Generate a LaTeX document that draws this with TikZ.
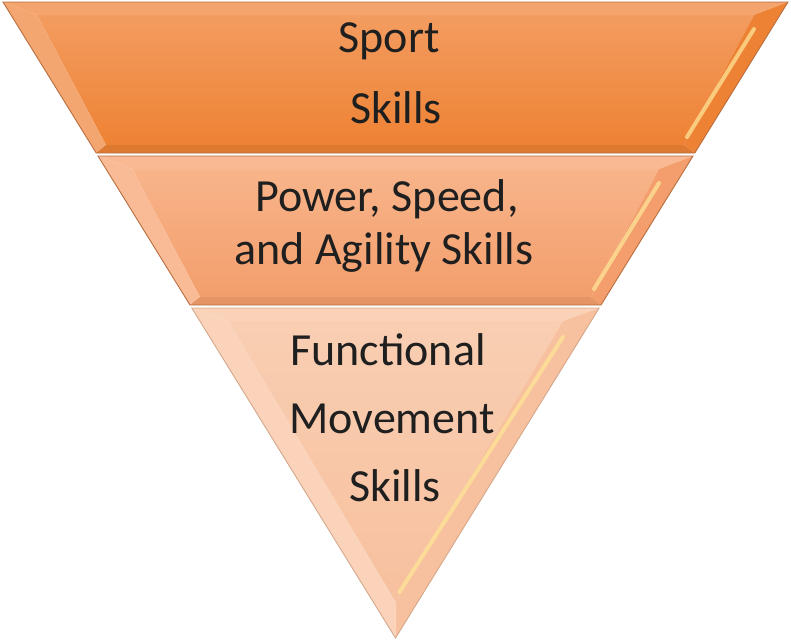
\documentclass[tikz,border=0pt]{standalone}
\usepackage{fontspec}
\setmainfont{Carlito}
\usetikzlibrary{calc}

% band colours
\definecolor{sportHi}{RGB}{243,156,96}
\definecolor{sportLo}{RGB}{238,130,52}
\definecolor{powerHi}{RGB}{248,180,138}
\definecolor{powerLo}{RGB}{243,158,108}
\definecolor{moveHi}{RGB}{249,206,178}
\definecolor{moveLo}{RGB}{247,192,158}
\definecolor{rimline}{RGB}{184,110,64}
\definecolor{gleam}{RGB}{255,228,150}

\begin{document}
\begin{tikzpicture}[
        x=1pt, y=-1pt,
        lbl/.style={anchor=base, inner sep=0pt, font=\fontsize{46}{54}\selectfont, text=black!88},
        rim/.style={draw=rimline, line width=0.9pt},
        shine/.style={draw=gleam, line width=4pt, line cap=round, opacity=0.75}
    ]
    \useasboundingbox (0,0) rectangle (791,641);

    % top band: Sport Skills
    \coordinate (s1) at (3,2);      \coordinate (s2) at (788,2);
    \coordinate (s3) at (694.8,153); \coordinate (s4) at (96.2,153);
    \coordinate (si1) at (37,15);   \coordinate (si2) at (754,15);
    \coordinate (si3) at (684,145); \coordinate (si4) at (106,145);
    \shade[top color=sportHi, bottom color=sportLo] (si1) -- (si2) -- (si3) -- (si4) -- cycle;
    \fill[sportHi!92!white] (s1) -- (s2) -- (si2) -- (si1) -- cycle;
    \fill[sportHi!90!white] (s1) -- (si1) -- (si4) -- (s4) -- cycle;
    \fill[sportLo] (s2) -- (s3) -- (si3) -- (si2) -- cycle;
    \fill[sportLo!93!black] (s4) -- (si4) -- (si3) -- (s3) -- cycle;
    \draw[shine] ($(si2)+(0,14)$) -- ($(si3)+(3,-8)$);
    \draw[rim] (s1) -- (s2) -- (s3) -- (s4) -- cycle;

    % middle band: Power, Speed, Agility
    \coordinate (p1) at (98,156);   \coordinate (p2) at (693,156);
    \coordinate (p3) at (601,305);  \coordinate (p4) at (190,305);
    \coordinate (pi1) at (132,169); \coordinate (pi2) at (659,169);
    \coordinate (pi3) at (591,297); \coordinate (pi4) at (200,297);
    \shade[top color=powerHi, bottom color=powerLo] (pi1) -- (pi2) -- (pi3) -- (pi4) -- cycle;
    \fill[powerHi!92!white] (p1) -- (p2) -- (pi2) -- (pi1) -- cycle;
    \fill[powerHi!90!white] (p1) -- (pi1) -- (pi4) -- (p4) -- cycle;
    \fill[powerLo] (p2) -- (p3) -- (pi3) -- (pi2) -- cycle;
    \fill[powerLo!94!black] (p4) -- (pi4) -- (pi3) -- (p3) -- cycle;
    \draw[shine] ($(pi2)+(0,14)$) -- ($(pi3)+(3,-8)$);
    \draw[rim] (p1) -- (p2) -- (p3) -- (p4) -- cycle;

    % bottom band: Functional Movement
    \coordinate (m1) at (191.8,308); \coordinate (m2) at (599.2,308);
    \coordinate (m3) at (395.5,638);
    \coordinate (mi1) at (228,321);  \coordinate (mi2) at (563,321);
    \coordinate (mi3) at (395.5,602);
    \shade[top color=moveHi, bottom color=moveLo] (mi1) -- (mi2) -- (mi3) -- cycle;
    \fill[moveHi!92!white] (m1) -- (m2) -- (mi2) -- (mi1) -- cycle;
    \fill[moveHi!90!white] (m1) -- (mi1) -- (mi3) -- (m3) -- cycle;
    \fill[moveLo] (m2) -- (m3) -- (mi3) -- (mi2) -- cycle;
    \draw[shine] ($(mi2)+(0,16)$) -- ($(mi3)+(4,-10)$);
    \draw[rim, draw=rimline!60] (m1) -- (m2) -- (m3) -- cycle;

    % labels
    \node[lbl] (sport)   at (389,52)  {Sport};
    \node[lbl] (skillsA) at (396,123) {Skills};
    \node[lbl] (power)   at (387,211) {Power, Speed,};
    \node[lbl] (agility) at (384,264) {and Agility Skills};
    \node[lbl] (func)    at (388,365) {Functional};
    \node[lbl] (move)    at (392,433) {Movement};
    \node[lbl] (skillsB) at (395,501) {Skills};
\end{tikzpicture}
\end{document}
